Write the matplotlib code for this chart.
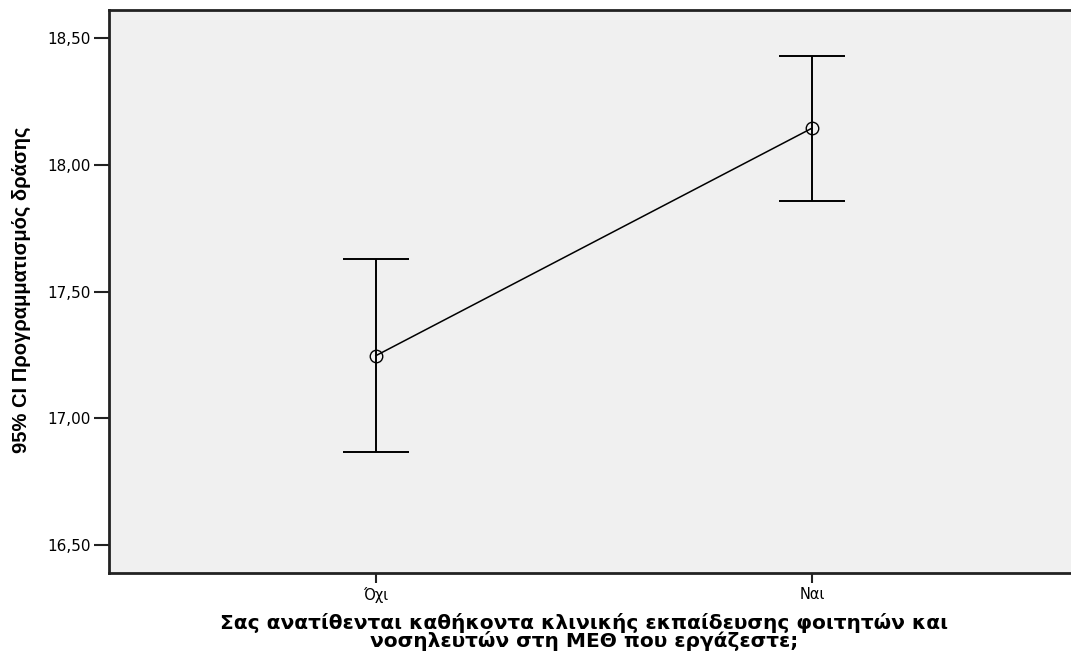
import numpy as np
import matplotlib
matplotlib.use('Agg')
import matplotlib.pyplot as plt
from matplotlib.ticker import FixedLocator, FuncFormatter

# group labels and 95% CI summary for each group
groups = ['Όχι', 'Ναι']
means = [17.247, 18.144]
ci_low = [16.867, 17.857]
ci_high = [17.629, 18.430]
yticks = [16.50, 17.00, 17.50, 18.00, 18.50]

plt.rcParams['font.family'] = ['DejaVu Sans']

fig = plt.figure(figsize=(10.71, 6.55), dpi=100)
ax = fig.add_axes([109 / 1071, 1 - 573 / 655, 1 - 109 / 1071, (573 - 10) / 655])
ax.set_facecolor('#f0f0f0')

x = np.arange(len(groups))
m = np.array(means)
err = np.vstack([m - np.array(ci_low), np.array(ci_high) - m])

ax.plot(x, m, color='black', linewidth=1.1, zorder=2)
ax.errorbar(x, m, yerr=err, fmt='none', ecolor='black', elinewidth=1.4,
            capsize=24, capthick=1.4, zorder=3)
ax.plot(x, m, linestyle='none', marker='o', markersize=9, markerfacecolor='none',
        markeredgecolor='black', markeredgewidth=1.0, zorder=4)

ax.set_xlim(-0.612, 1.594)
ax.set_ylim(16.39, 18.61)

ax.set_xticks(x)
ax.set_xticklabels(groups, fontsize=10.5)
ax.yaxis.set_major_locator(FixedLocator(yticks))
ax.yaxis.set_major_formatter(FuncFormatter(lambda v, p: f'{v:.2f}'.replace('.', ',')))
ax.tick_params(axis='y', length=11, width=1.5, labelsize=11, pad=2, colors='#222222')
ax.tick_params(axis='x', length=7, width=1.5, pad=3, colors='#222222')
for lbl in ax.get_xticklabels() + ax.get_yticklabels():
    lbl.set_color('black')

for side in ['left', 'bottom', 'top']:
    ax.spines[side].set_linewidth(2.0)
    ax.spines[side].set_color('#222222')
ax.spines['right'].set_visible(False)

# narrower family for the rotated axis title
ax.set_ylabel('95% CI Προγραμματισμός δράσης', fontsize=14.5, fontweight='bold',
              family=['Liberation Sans', 'DejaVu Sans'])
ax.yaxis.set_label_coords(-(109 - 31) / 962, (573 - 290) / 563)

ax.set_xlabel('Σας ανατίθενται καθήκοντα κλινικής εκπαίδευσης φοιτητών και\n'
              'νοσηλευτών στη ΜΕΘ που εργάζεστε;', fontsize=14.5, fontweight='bold',
              linespacing=0.9)
ax.xaxis.set_label_coords((584 - 109) / 962, -(613 - 573) / 563)

fig.savefig('out.png', dpi=100)
